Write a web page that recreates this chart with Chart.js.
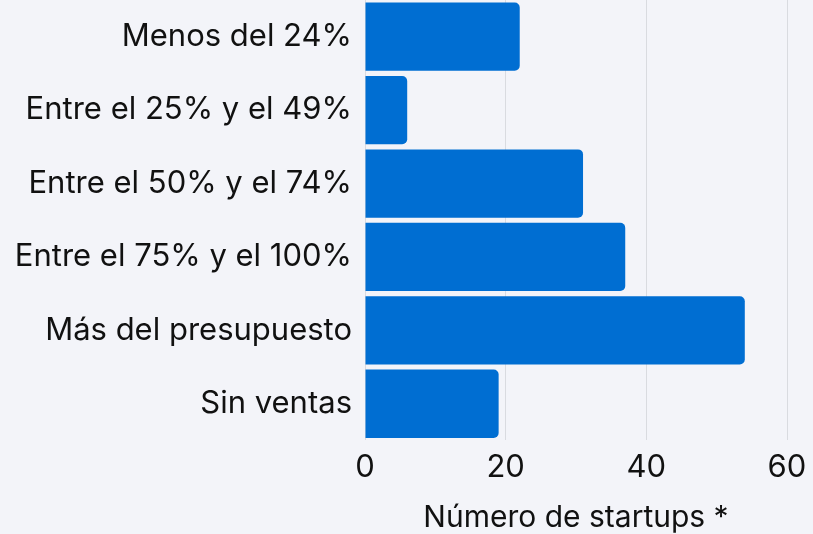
<!DOCTYPE html>
<html>
<head>
<meta charset="utf-8">
<script src="https://cdn.jsdelivr.net/npm/chart.js@4"></script>
<style>
  html, body { margin: 0; padding: 0; background: #f3f4f9; }
  #wrap { width: 813px; height: 534px; }
</style>
</head>
<body>
<div id="wrap"><canvas id="chart"></canvas></div>
<script>
// --- DATA ---
const categories = ['Menos del 24%', 'Entre el 25% y el 49%', 'Entre el 50% y el 74%', 'Entre el 75% y el 100%', 'Más del presupuesto', 'Sin ventas'];
const startups = [22, 6, 31, 37, 54, 19];
const xTicks = [0, 20, 40, 60];

const fontFamily = 'Inter, "Noto Sans", sans-serif';

const ctx = document.getElementById('chart').getContext('2d');
new Chart(ctx, {
    type: 'bar',
    data: {
        labels: categories,
        datasets: [{
            data: startups,
            backgroundColor: '#006ed2',
            borderRadius: 5,
            borderSkipped: 'start',
            barPercentage: 0.93,
            categoryPercentage: 1
        }]
    },
    options: {
        indexAxis: 'y',
        responsive: true,
        maintainAspectRatio: false,
        animation: false,
        layout: { padding: { top: 0, right: 26, bottom: 0, left: 0 } },
        plugins: {
            legend: { display: false },
            tooltip: { enabled: false }
        },
        scales: {
            x: {
                min: 0,
                max: 60,
                afterBuildTicks: axis => { axis.ticks = xTicks.map(v => ({ value: v })); },
                afterFit: axis => { axis.paddingLeft = 0; axis.paddingRight = 0; },
                grid: { color: '#d9dbe0', drawTicks: false },
                border: { display: false },
                ticks: { color: '#111', padding: 11, font: { family: fontFamily, size: 31, lineHeight: 1.05 } },
                title: {
                    display: true,
                    text: 'Número de startups *',
                    color: '#111',
                    padding: { top: 6, bottom: 0 },
                    font: { family: fontFamily, size: 30, lineHeight: 1.1 }
                }
            },
            y: {
                grid: { display: false, drawTicks: false },
                border: { display: false },
                afterFit: axis => { axis.width = 365; axis.paddingTop = 0; axis.paddingBottom = 0; },
                ticks: { color: '#111', padding: 13, font: { family: fontFamily, size: 31 } }
            }
        }
    }
});
</script>
</body>
</html>
